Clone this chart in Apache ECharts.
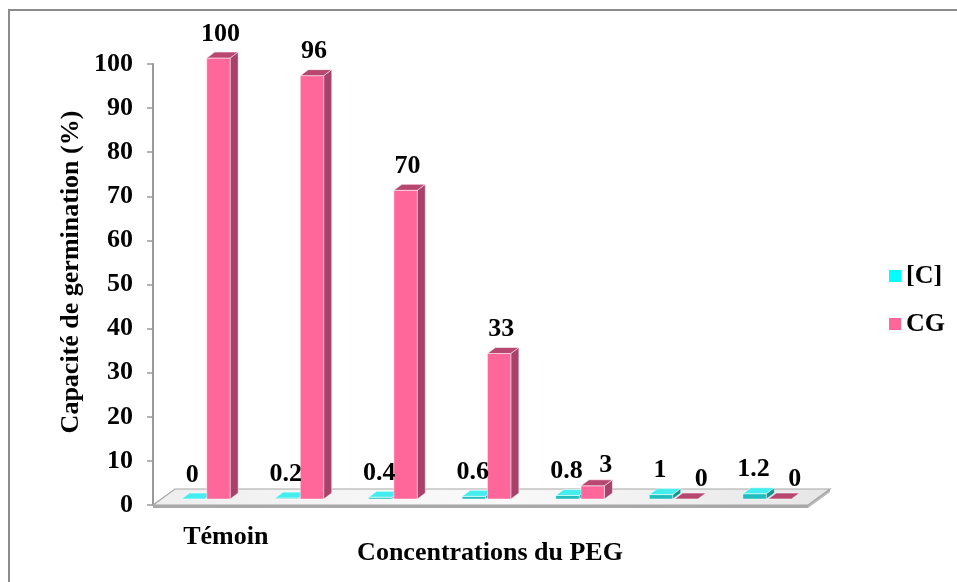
<!DOCTYPE html>
<html>
<head>
<meta charset="utf-8">
<script src="https://cdn.jsdelivr.net/npm/echarts@6/dist/echarts.min.js"></script>
<style>
  html, body { margin: 0; padding: 0; background: #fff; }
  #chart { width: 957px; height: 582px; }
</style>
</head>
<body>
<div id="chart"></div>
<script>
// Categories along the x axis (only the control group is labelled)
const categories = ['Témoin', '0.2', '0.4', '0.6', '0.8', '1', '1.2'];
// [C] : PEG concentration of each treatment
const concValues = [0, 0.2, 0.4, 0.6, 0.8, 1, 1.2];
// CG : germination capacity (%)
const cgValues = [100, 96, 70, 33, 3, 0, 0];
// Value axis ticks
const yMin = 0, yMax = 100, yStep = 10;

const FONT = 'bold 26px "Liberation Serif", "Times New Roman", serif';
// Oblique projection used for the pseudo-3D look
const FRONT = [6, -6];   // shift of a bar's front face into the floor
const DEPTH = [8, -6];   // depth of each bar
const FLOOR = [22, -16]; // depth of the floor slab

function makeBarRenderer(offset, colors, nudgeShort, labelDx) {
  return function (params, api) {
    const idx = api.value(0);
    const v = api.value(1);
    const base = api.coord([idx, 0]);
    const top = api.coord([idx, v]);
    const band = api.size([1, 0])[0];
    const w = band * 0.25;
    const x0 = base[0] + FRONT[0] + band * offset;
    const x1 = x0 + w;
    const yb = base[1] + FRONT[1];
    const yt = top[1] + FRONT[1];
    const dx = DEPTH[0], dy = DEPTH[1];
    const h = yb - yt;
    const children = [];
    if (h > 0.01) {
      children.push({
        type: 'polygon',
        shape: { points: [[x1, yt], [x1 + dx, yt + dy], [x1 + dx, yb + dy], [x1, yb]] },
        style: { fill: colors.side, stroke: 'rgba(255,255,255,0.5)', lineWidth: 0.8 }
      });
      children.push({
        type: 'rect',
        shape: { x: x0, y: yt, width: w, height: h },
        style: { fill: colors.front, stroke: 'rgba(255,255,255,0.6)', lineWidth: 0.8 }
      });
    }
    children.push({
      type: 'polygon',
      shape: { points: [[x0, yt], [x1, yt], [x1 + dx, yt + dy], [x0 + dx, yt + dy]] },
      style: { fill: colors.top, stroke: 'rgba(255,255,255,0.7)', lineWidth: 0.8 }
    });
    // labels of very short bars sit a little to the right, clear of the neighbour label
    const shift = nudgeShort ? Math.max(0, 13 - h * 0.15) : 0;
    children.push({
      type: 'text',
      z2: 100,
      style: {
        text: String(v),
        x: (x0 + x1) / 2 + labelDx + shift,
        y: yt - 24 + (nudgeShort && h < 20 ? 4 : 0),
        font: FONT,
        fill: '#000',
        textAlign: 'center',
        textVerticalAlign: 'middle'
      }
    });
    return { type: 'group', children: children };
  };
}

function renderFloor(params, api) {
  const cs = params.coordSys;
  const xl = cs.x, xr = cs.x + cs.width, y = cs.y + cs.height;
  const fx = FLOOR[0], fy = FLOOR[1];
  return {
    type: 'group',
    children: [
      {
        type: 'polygon',
        shape: { points: [[xl, y], [xr, y], [xr, y + 3], [xl, y + 3]] },
        style: { fill: '#a9a9a9' }
      },
      {
        type: 'polygon',
        shape: { points: [[xr, y], [xr + fx, y + fy], [xr + fx, y + fy + 3], [xr, y + 3]] },
        style: { fill: '#b8b8b8' }
      },
      {
        type: 'polygon',
        shape: { points: [[xl, y], [xr, y], [xr + fx, y + fy], [xl + fx, y + fy]] },
        style: {
          fill: new echarts.graphic.LinearGradient(0, 0, 1, 0, [
            { offset: 0, color: '#eeeeee' },
            { offset: 0.5, color: '#fafafa' },
            { offset: 1, color: '#e6e6e6' }
          ]),
          stroke: '#a6a6a6',
          lineWidth: 1.2
        }
      }
    ]
  };
}

const chart = echarts.init(document.getElementById('chart'), null, { renderer: 'canvas' });

chart.setOption({
  backgroundColor: '#fff',
  animation: false,
  grid: { left: 153, right: 149, top: 64, bottom: 77 },
  legend: {
    orient: 'vertical',
    left: 884,
    top: 258,
    icon: 'rect',
    itemWidth: 12,
    itemHeight: 12,
    itemGap: 22,
    data: ['[C]', 'CG'],
    textStyle: { fontFamily: '"Liberation Serif", serif', fontWeight: 'bold', fontSize: 26, color: '#000' }
  },
  xAxis: {
    type: 'category',
    data: categories,
    boundaryGap: true,
    axisLine: { show: false },
    axisTick: { show: false },
    splitLine: { show: false },
    axisLabel: {
      margin: 19,
      padding: [0, 0, 0, 52],
      fontFamily: '"Liberation Serif", serif',
      fontWeight: 'bold',
      fontSize: 26,
      color: '#000',
      formatter: function (val, i) { return i === 0 ? val : ''; }
    }
  },
  yAxis: {
    type: 'value',
    min: yMin,
    max: yMax,
    interval: yStep,
    axisLine: { show: true, lineStyle: { color: '#9a9a9a', width: 2 } },
    axisTick: { show: true, length: 6, lineStyle: { color: '#9a9a9a', width: 1.5 } },
    splitLine: { show: false },
    axisLabel: {
      margin: 20,
      fontFamily: '"Liberation Serif", serif',
      fontWeight: 'bold',
      fontSize: 26,
      color: '#000'
    }
  },
  graphic: [
    {
      type: 'rect',
      shape: { x: 9, y: 10, width: 960, height: 600 },
      style: { fill: 'none', stroke: '#8c8c8c', lineWidth: 2 },
      silent: true,
      z: -10
    },
    {
      type: 'text',
      x: 71,
      y: 272,
      rotation: Math.PI / 2,
      style: {
        text: 'Capacité de germination (%)',
        font: FONT,
        fill: '#000',
        textAlign: 'center',
        textVerticalAlign: 'middle'
      }
    },
    {
      type: 'text',
      x: 490,
      y: 553,
      style: {
        text: 'Concentrations du PEG',
        font: FONT,
        fill: '#000',
        textAlign: 'center',
        textVerticalAlign: 'middle'
      }
    }
  ],
  series: [
    {
      name: 'floor',
      type: 'custom',
      silent: true,
      clip: false,
      z: 1,
      renderItem: renderFloor,
      data: [[0, 0]]
    },
    {
      name: '[C]',
      type: 'custom',
      clip: false,
      z: 3,
      itemStyle: { color: '#00FFFF' },
      renderItem: makeBarRenderer(-0.26, { front: '#1FBDBD', side: '#149494', top: '#45EEEE' }, false, -1),
      data: concValues.map(function (v, i) { return [i, v]; })
    },
    {
      name: 'CG',
      type: 'custom',
      clip: false,
      z: 3,
      itemStyle: { color: '#FF6699' },
      renderItem: makeBarRenderer(0.01, { front: '#FF6699', side: '#A8426A', top: '#B8476F' }, true, 2),
      data: cgValues.map(function (v, i) { return [i, v]; })
    }
  ]
});
</script>
</body>
</html>
